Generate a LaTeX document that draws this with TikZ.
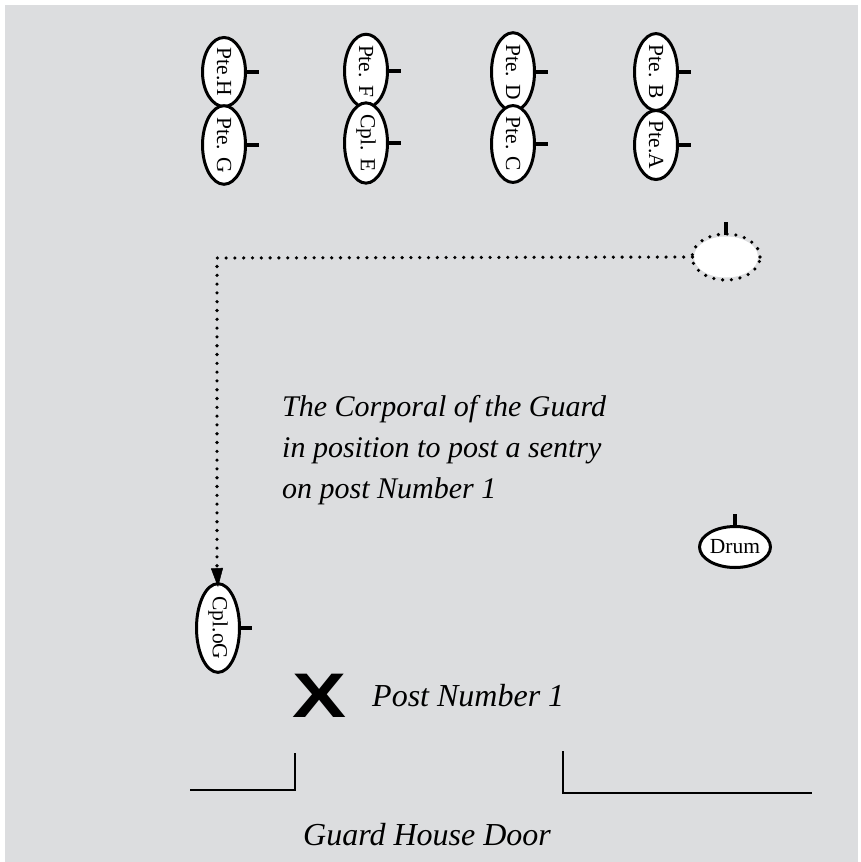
\documentclass[tikz,border=0pt]{standalone}
\usepackage{fontspec}
\setmainfont{Liberation Serif}
\newfontfamily\xsans{Liberation Sans}
\usetikzlibrary{shapes.geometric,arrows.meta}
\definecolor{bg}{HTML}{DCDDDF}
\tikzset{
  soldier/.style={ellipse, draw=black, fill=white, line width=3pt, minimum width=43pt, minimum height=69pt, inner sep=0pt, font=\fontsize{21.5}{21.5}\selectfont},
  lying/.style={ellipse, draw=black, fill=white, line width=3pt, minimum width=64pt, minimum height=41pt, inner sep=0pt, font=\fontsize{21.5}{21.5}\selectfont},
  facing/.style={line width=3.8pt},
  dots/.style={line width=3.6pt, line cap=round, dash pattern=on 0pt off 8.8pt},
  caption/.style={font=\fontsize{32}{32}\selectfont\itshape, inner sep=0pt},
  wall/.style={line width=2.6pt}
}
\begin{document}
\begin{tikzpicture}[x=1pt,y=-1pt]
\useasboundingbox (0,0) rectangle (860,862);
\fill[white] (0,0) rectangle (860,862);
\fill[bg] (5,5) rectangle (858,862);
% top ranks
\foreach \n/\x/\y/\t in {ph/224/72/Pte.H, pg/224/145/Pte. G, pf/366/71/Pte. F, ce/366/143/Cpl. E, pd/513/72/Pte. D, pc/513/144/Pte. C, pb/656/72/Pte. B, pa/656/145/Pte.A}{
  \node[soldier] (\n) at (\x,\y) {\rotatebox{-90}{\t}};
  \draw[facing] (\n.east) -- ++(12,0);
}
% Corporal of the Guard, former position
\node[lying, draw=none] (old) at (726,257) {};
\draw[dots] (old.center) ellipse[x radius=34pt, y radius=23pt];
\draw[facing] (old.north) -- ++(0,-13);
% Corporal in position
\node[soldier] (cpl) at (218,628) {\rotatebox{-90}{Cpl.oG}};
\draw[facing] (cpl.east) -- ++(11,0);
\coordinate (corner) at (217,258);
\draw[dots] (old.west) -- (corner) -- (217,566);
\draw[-{Triangle[length=19pt,width=12pt]}, line width=0.5pt] (217,568) -- ([yshift=-5pt]cpl.north);
% Drum
\node[lying] (drum) at (735,547) {Drum};
\draw[facing] (drum.north) -- ++(0,-11);
% caption
\node[caption, anchor=base west, align=left, font=\fontsize{30}{41}\selectfont\itshape] (cap) at (282,498) {The Corporal of the Guard\\in position to post a sentry\\on post Number 1};
% post
\node[inner sep=0pt, font=\fontsize{60}{60}\selectfont\xsans\bfseries] (x) at (320,696) {\scalebox{1.35}[1.05]{X}};
\node[caption, anchor=base west] (post) at (372,706) {Post Number 1};
% door
\coordinate (l1) at (190,790);
\coordinate (l2) at (295,790);
\coordinate (l3) at (295,753);
\coordinate (r1) at (563,751);
\coordinate (r2) at (563,793);
\coordinate (r3) at (812,793);
\draw[wall] (l1) -- (l2) -- (l3);
\draw[wall] (r1) -- (r2) -- (r3);
\node[caption, anchor=base west] (door) at (303,845) {Guard House Door};
\end{tikzpicture}
\end{document}
